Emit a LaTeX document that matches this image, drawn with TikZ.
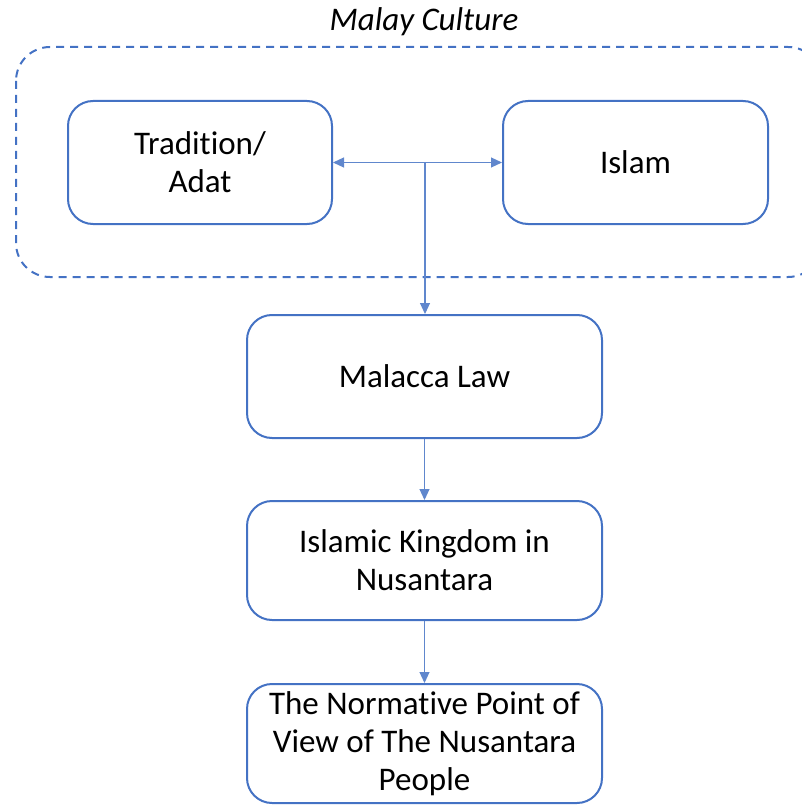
\documentclass[tikz,border=0pt]{standalone}
\usepackage{fontspec}
\setmainfont{Carlito}[Ligatures={NoCommon}]
\usetikzlibrary{arrows.meta}
\definecolor{obl}{HTML}{4472C4}
\begin{document}
\begin{tikzpicture}[x=1pt,y=-1pt,
  box/.style={draw=obl,line width=2pt,rounded corners=25pt,fill=white,align=center,inner sep=0pt,
    font=\fontsize{33}{38}\selectfont},
  conn/.style={draw=obl!85,line width=1.1pt,-{Triangle[length=11pt,width=10pt]}},
  conn2/.style={draw=obl!85,line width=1.1pt,{Triangle[length=11pt,width=10pt]}-{Triangle[length=11pt,width=10pt]}}]
\useasboundingbox (0,0) rectangle (802,805);
\begin{scope}
\clip (0,0) rectangle (802,805);
\draw[obl,line width=2pt,dash pattern=on 8pt off 6pt,rounded corners=34pt] (16,47) rectangle (822,277);
\end{scope}
\node[font=\itshape\fontsize{33}{38}\selectfont,anchor=center] (title) at (424,22) {Malay Culture};
\node[box,minimum width=264pt,minimum height=123pt] (trad) at (200,162.5) {Tradition/\\Adat};
\node[box,minimum width=265pt,minimum height=123pt] (islam) at (635.5,162.5) {Islam};
\node[box,minimum width=355pt,minimum height=123pt] (mal) at (424.5,376.5) {Malacca Law};
\node[box,minimum width=355pt,minimum height=119pt] (king) at (424.5,560.5) {Islamic Kingdom in\\Nusantara};
\node[box,minimum width=355pt,minimum height=119pt] (norm) at (424.5,743.5) {The Normative Point of\\View of The Nusantara\\People};
\coordinate (mid) at (425,163);
\draw[conn2] (trad.east) -- (islam.west);
\draw[conn] (mid) -- (mid|-mal.north);
\draw[conn] (king.north|-mal.south) -- (king.north);
\draw[conn] (norm.north|-king.south) -- (norm.north);
\end{tikzpicture}
\end{document}
